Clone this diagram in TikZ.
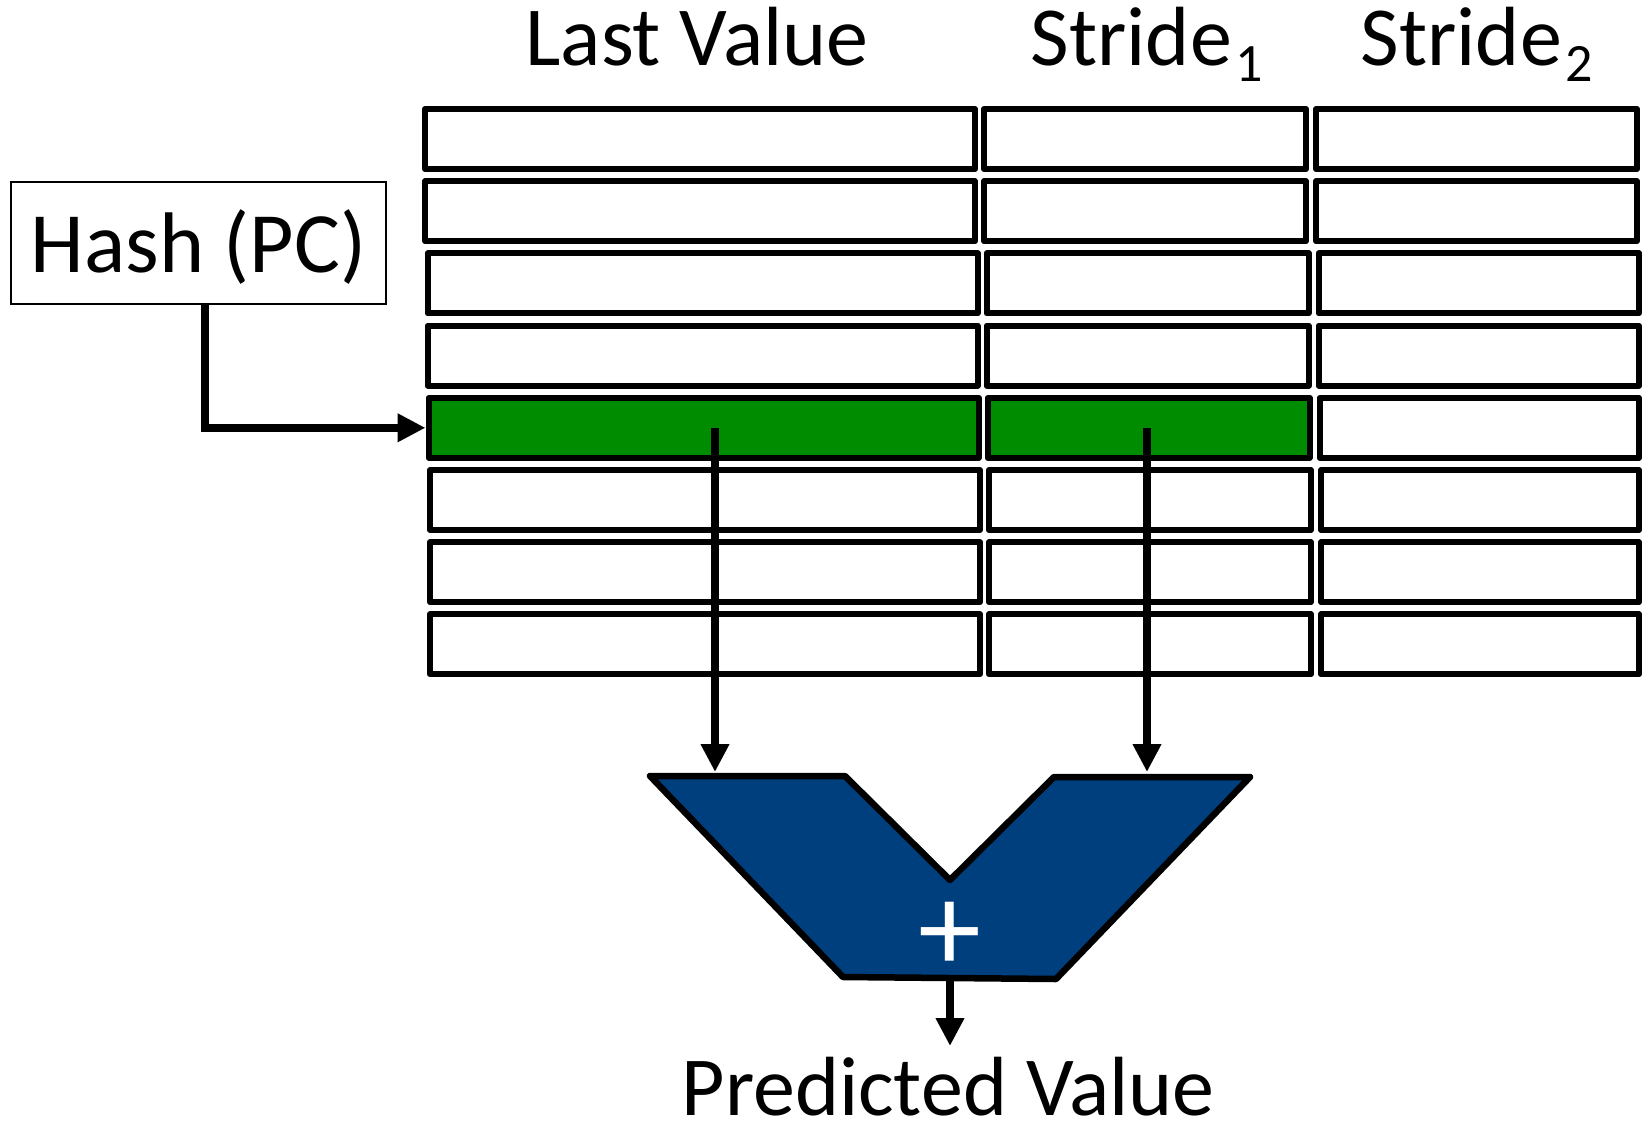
\documentclass[tikz,border=0pt]{standalone}
\usepackage{fontspec}
\setmainfont{Carlito}
\usetikzlibrary{arrows.meta}
\definecolor{cellgreen}{RGB}{0,140,0}
\definecolor{adderblue}{RGB}{0,63,126}
\begin{document}
\begin{tikzpicture}[x=1pt,y=-1pt,
  cell/.style={draw,line width=6pt,line join=round,inner sep=0pt},
  hdr/.style={anchor=base,inner sep=0pt,font=\fontsize{84}{84}\selectfont},
  arr/.style={line width=8pt,-{Triangle[length=28pt,width=27pt]}}]
\useasboundingbox (0,0) rectangle (1643,1122);

% headers
\node[hdr] (hlv) at (697,65) {Last Value};
\node[hdr] (hs1) at (1147,65) {Stride\kern4pt\raisebox{-16pt}{\fontsize{54}{54}\selectfont 1}};
\node[hdr] (hs2) at (1477,65) {Stride\kern4pt\raisebox{-16pt}{\fontsize{54}{54}\selectfont 2}};

% table
\foreach \r/\s/\t/\f in {1/0/0/white,2/0/0/white,3/2.5/2/white,4/2.5/2/white,5/3.5/2/cellgreen,6/5/2/white,7/5/2/white,8/5/2/white}{
  \pgfmathsetmacro\yc{139+72.2*(\r-1)}
  \pgfmathsetmacro\xa{700+\s}
  \pgfmathsetmacro\xb{1145+\s}
  \pgfmathsetmacro\xc{(2953+\s+\t)/2}
  \pgfmathsetmacro\wc{327+\t-\s-6}
  \node[cell,fill=\f,minimum width=550pt,minimum height=60pt] (c-\r-1) at (\xa,\yc) {};
  \node[cell,fill=\f,minimum width=322pt,minimum height=60pt] (c-\r-2) at (\xb,\yc) {};
  \node[cell,fill=white,minimum width=\wc pt,minimum height=60pt] (c-\r-3) at (\xc,\yc) {};
}

% hash box
\node[draw,line width=2pt,minimum width=375pt,minimum height=122pt,inner sep=0pt,
      text height=62pt,text depth=4pt,font=\fontsize{86}{86}\selectfont] (hash) at (198.5,243) {Hash (PC)};
\draw[arr] ([xshift=6.5pt]hash.south) |- (c-5-1.west);

% adder inputs
\coordinate (lvsrc) at (715,428);
\coordinate (s1src) at (1147,428);
\coordinate (lvin) at (715,772);
\coordinate (s1in) at (1147,772);
\draw[arr] (lvsrc) -- (lvin);
\draw[arr] (s1src) -- (s1in);

% adder
\draw[line width=6.5pt,line join=round,fill=adderblue]
  (650,776) coordinate (ad1) -- (845,776) coordinate (ad2) -- (950,880) coordinate (ad3)
  -- (1054,777) coordinate (ad4) -- (1250,777) coordinate (ad5)
  -- (1056,979) coordinate (ad6) -- (843,977) coordinate (ad7) -- cycle;
\node[text=white,font=\fontsize{126}{126}\selectfont,inner sep=0pt] (plus) at (950,937) {+};

\coordinate (sumout) at (950,978);
\coordinate (predtip) at (950,1046);
\draw[arr] (sumout) -- (predtip);
\node[hdr] (pred) at (948,1115) {Predicted Value};
\end{tikzpicture}
\end{document}
